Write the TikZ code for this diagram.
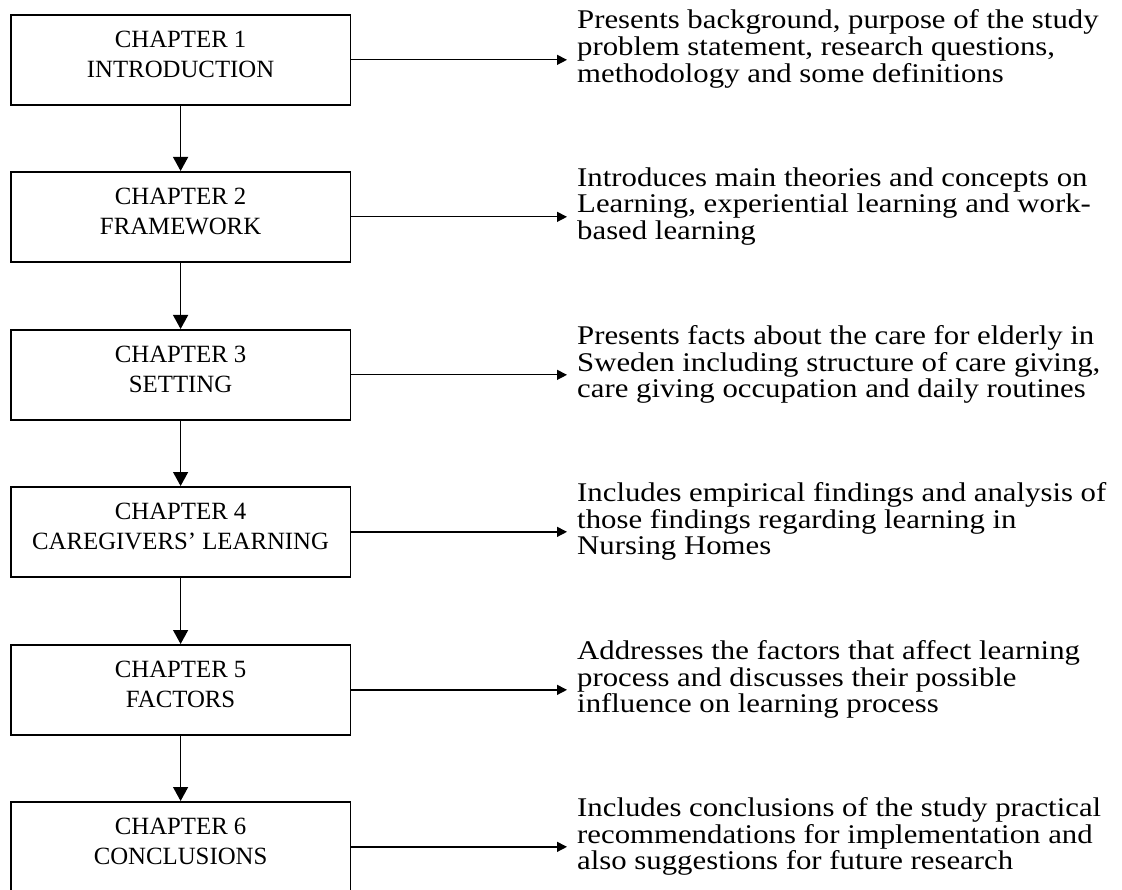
\documentclass[tikz,border=0pt]{standalone}
\usepackage{fontspec}
\setmainfont{Liberation Serif}
\newfontfamily\descfont[FakeStretch=1.14]{Liberation Serif}
% widened face, fixed line pitch for the description paragraphs
\newcommand\descsetup{\descfont\fontsize{27}{26.7}\selectfont\lineskiplimit=-100pt\relax}
\usetikzlibrary{arrows.meta,calc}
\begin{document}
\begin{tikzpicture}[x=1pt,y=-1pt,
  chapbox/.style={draw, line width=1.7pt, minimum width=339.5pt, minimum height=90pt,
    inner sep=0pt, anchor=north west},
  chaplabel/.style={font=\fontsize{24.8}{30}\selectfont, align=center, inner sep=0pt},
  desc/.style={font=\descsetup, align=left, anchor=west, inner sep=0pt},
  downarrow/.style={line width=1.3pt, -{Triangle[length=14pt,width=15pt]}},
  sidearrow/.style={line width=1.3pt, -{Triangle[length=10pt,width=10pt]}, shorten >=10pt}]
  \useasboundingbox (0,0) rectangle (1122,890);
  \clip (0,0) rectangle (1122,890);

  % chapter boxes
  \node[chapbox] (c1) at (10,14)  {};
  \node[chapbox] (c2) at (10,171) {};
  \node[chapbox] (c3) at (10,329) {};
  \node[chapbox] (c4) at (10,486) {};
  \node[chapbox] (c5) at (10,644) {};
  \node[chapbox] (c6) at (10,801) {};

  % chapter titles
  \node[chaplabel] (l1) at ($(c1.center)+(0,-5.4)$) {CHAPTER 1\\INTRODUCTION};
  \node[chaplabel] (l2) at ($(c2.center)+(0,-5.4)$) {CHAPTER 2\\FRAMEWORK};
  \node[chaplabel] (l3) at ($(c3.center)+(0,-5.4)$) {CHAPTER 3\\SETTING};
  \node[chaplabel] (l4) at ($(c4.center)+(0,-5.4)$) {CHAPTER 4\\CAREGIVERS’ LEARNING};
  \node[chaplabel] (l5) at ($(c5.center)+(0,-5.4)$) {CHAPTER 5\\FACTORS};
  \node[chaplabel] (l6) at ($(c6.center)+(0,-5.4)$) {CHAPTER 6\\CONCLUSIONS};

  % chapter descriptions
  \node[desc] (d1) at (577,49)    {Presents background, purpose of the study\\problem statement, research questions,\\methodology and some definitions};
  \node[desc] (d2) at (577,206.5) {Introduces main theories and concepts on\\Learning, experiential learning and work-\\based learning};
  \node[desc] (d3) at (577,364.5) {Presents facts about the care for elderly in\\Sweden including structure of care giving,\\care giving occupation and daily routines};
  \node[desc] (d4) at (577,521.5) {Includes empirical findings and analysis of\\those findings regarding learning in\\Nursing Homes};
  \node[desc] (d5) at (577,679.5) {Addresses the factors that affect learning\\process and discusses their possible\\influence on learning process};
  \node[desc] (d6) at (577,836.5) {Includes conclusions of the study practical\\recommendations for implementation and\\also suggestions for future research};

  % chapter sequence
  \draw[downarrow] (c1.south) -- (c2.north);
  \draw[downarrow] (c2.south) -- (c3.north);
  \draw[downarrow] (c3.south) -- (c4.north);
  \draw[downarrow] (c4.south) -- (c5.north);
  \draw[downarrow] (c5.south) -- (c6.north);

  % links to descriptions
  \draw[sidearrow] (c1.east) -- (c1.east -| d1.west);
  \draw[sidearrow] (c2.east) -- (c2.east -| d2.west);
  \draw[sidearrow] (c3.east) -- (c3.east -| d3.west);
  \draw[sidearrow] (c4.east) -- (c4.east -| d4.west);
  \draw[sidearrow] (c5.east) -- (c5.east -| d5.west);
  \draw[sidearrow] (c6.east) -- (c6.east -| d6.west);
\end{tikzpicture}
\end{document}
